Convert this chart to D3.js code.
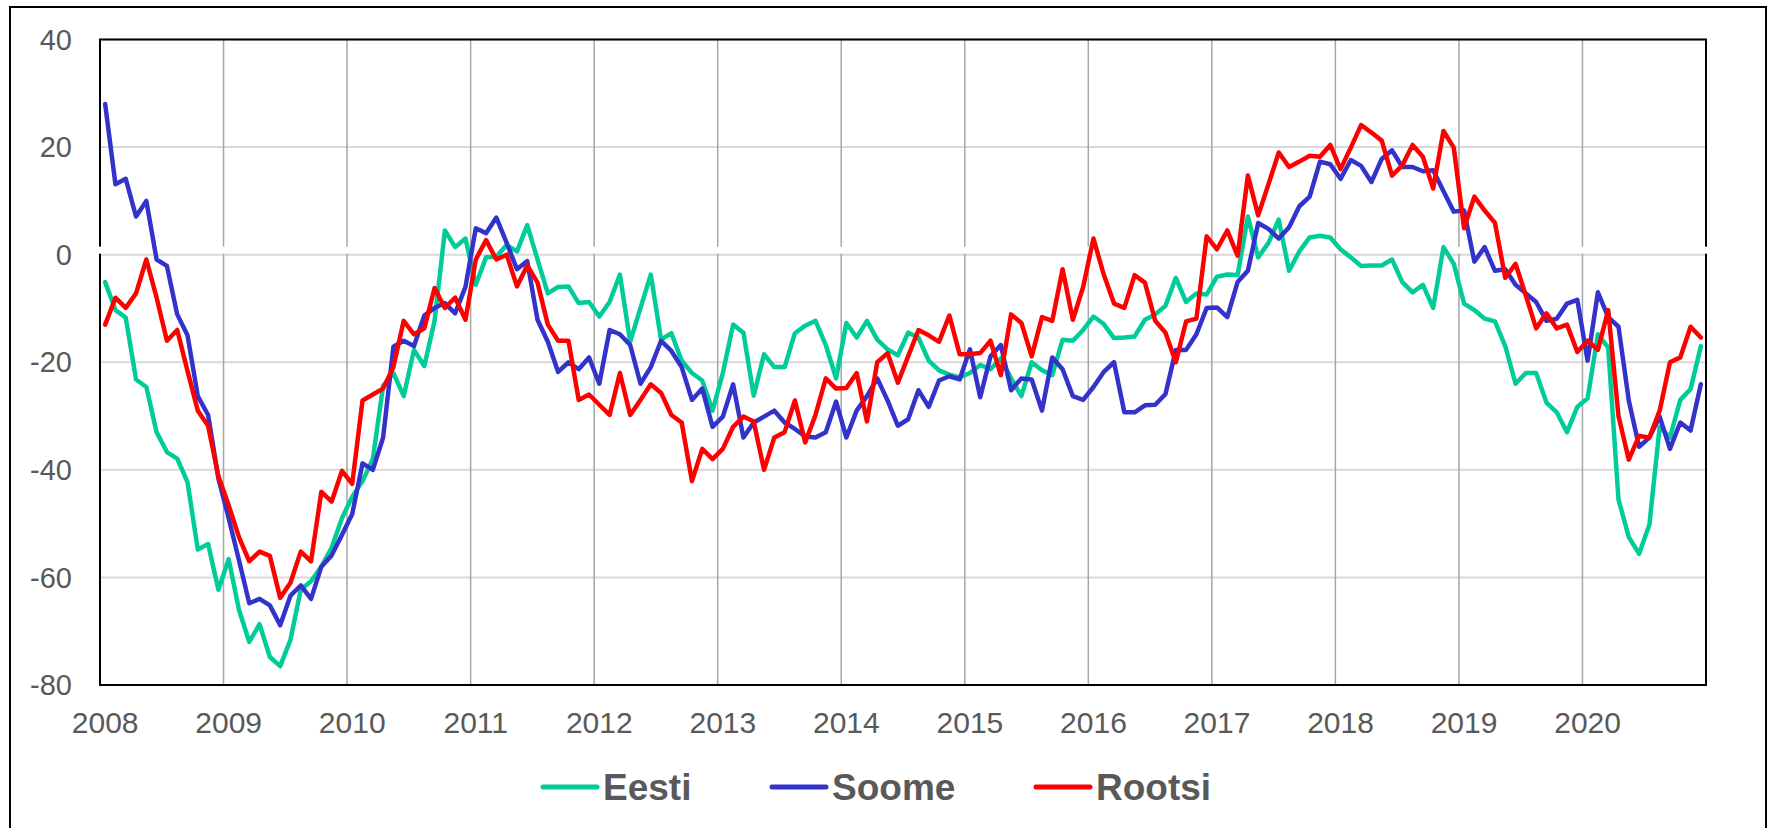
<!DOCTYPE html>
<html lang="et">
<head>
<meta charset="utf-8">
<title>Eesti, Soome, Rootsi</title>
<script src="https://cdn.jsdelivr.net/npm/d3@7"></script>
<style>
  body { margin: 0; background: #fff; }
  text { font-family: "Liberation Sans", Arial, sans-serif; fill: #595959; }
</style>
</head>
<body>
<div id="chart"></div>
<script>
// years on the category axis (12 monthly points each)
var years = ["2008","2009","2010","2011","2012","2013","2014","2015","2016","2017","2018","2019","2020"];
var yTicks = [-80, -60, -40, -20, 0, 20, 40];
var seriesNames = ["Eesti", "Soome", "Rootsi"];

var eesti = [
  -5.1, -10.3, -11.7, -23.2, -24.6, -33, -36.7, -37.9, -42.3, -54.8, -53.8, -62.3,
  -56.6, -66, -72, -68.7, -74.8, -76.5, -71.6, -62.3, -60.7, -58, -54.5, -49,
  -45, -42.1, -38, -24.4, -22, -26.3, -17.7, -20.7, -12.3, 4.5, 1.4, 3,
  -5.6, -0.5, -0.4, 1.8, 0.6, 5.5, -0.9, -7.2, -6, -5.9, -9, -8.8,
  -11.5, -8.8, -3.7, -16.2, -9.9, -3.7, -15.8, -14.6, -19.7, -22, -23.4, -29,
  -22, -13, -14.5, -26.2, -18.5, -20.9, -20.9, -14.6, -13.2, -12.3, -16.8, -23,
  -12.7, -15.4, -12.3, -15.8, -17.6, -18.7, -14.5, -15.4, -19.7, -21.5, -22.3, -22.8,
  -22, -20.5, -21.3, -19.3, -23, -26.3, -20, -21.5, -22.4, -15.8, -16, -14,
  -11.5, -12.9, -15.5, -15.4, -15.2, -12.1, -11.1, -9.5, -4.3, -8.8, -7.2, -7.4,
  -4.1, -3.7, -3.8, 7.1, -0.5, 2.2, 6.5, -3, 0.6, 3.2, 3.5, 3.2,
  1, -0.5, -2.1, -2, -2, -0.9, -5.1, -7, -5.6, -9.9, 1.4, -1.7,
  -9.1, -10.3, -11.9, -12.4, -17, -24, -22, -22, -27.5, -29.3, -33, -28.3,
  -26.7, -14.8, -17.3, -45.5, -52.5, -55.6, -50.2, -32, -34, -27, -25, -17
];

var soome = [
  28, 13.1, 14.1, 7.1, 10, -0.9, -2.1, -11.1, -15, -26.3, -29.8, -41.6,
  -49, -56.8, -64.8, -64, -65.2, -68.9, -63.4, -61.5, -64, -58, -55.9, -52.1,
  -48.2, -38.8, -40, -34, -17.1, -16, -17, -11.3, -9.9, -9, -10.9, -6,
  4.9, 4, 6.9, 2.2, -2.7, -1.2, -12.1, -16.2, -21.8, -20, -21.3, -19.1,
  -24, -14, -14.8, -16.8, -24, -20.9, -16, -17.9, -20.9, -27, -24.9, -32,
  -30.1, -24.1, -34, -31.2, -30.1, -29, -31.2, -32.4, -33.8, -34, -33, -27.3,
  -34, -29, -26.3, -23, -27.1, -31.8, -30.6, -25.2, -28.3, -23.4, -22.6, -23.2,
  -17.6, -26.5, -18.9, -16.8, -25.2, -23, -23.2, -29, -19.1, -21.3, -26.3, -27,
  -24.6, -21.8, -20, -29.3, -29.3, -28, -27.9, -25.9, -17.7, -17.7, -14.8, -9.9,
  -9.8, -11.6, -5.1, -3, 5.9, 4.8, 3, 5.1, 9, 10.8, 17.3, 16.8,
  14.1, 17.6, 16.5, 13.5, 17.8, 19.4, 16.3, 16.3, 15.5, 15.7, 11.8, 8,
  8.2, -1.3, 1.4, -3, -2.7, -5.6, -7.2, -8.8, -12.3, -11.9, -9.1, -8.4,
  -19.7, -7, -11.6, -13.4, -27.1, -35.7, -34, -30.1, -36.1, -31.2, -32.7, -24.1
];

var rootsi = [
  -13, -8, -9.9, -7.2, -0.9, -8, -16, -14, -21.6, -29, -31.8, -41.2,
  -46.6, -52.5, -57, -55.2, -56, -63.8, -61, -55.2, -57, -44.1, -45.9, -40.2,
  -42.6, -27.1, -26, -24.9, -20.9, -12.3, -14.8, -13.7, -6.2, -9.9, -8, -12.1,
  -0.9, 2.7, -0.9, 0, -5.9, -2, -5.2, -13, -16, -16, -27, -26,
  -27.9, -29.8, -22, -29.8, -27, -24.1, -25.7, -29.8, -31.2, -42.1, -36.1, -38,
  -36.1, -32, -30.1, -31, -40, -34, -33, -27.1, -34.9, -29.8, -23, -24.9,
  -24.8, -22, -31, -20, -18.3, -23.8, -18.9, -14, -15, -16.2, -11.3, -18.5,
  -18.5, -18.3, -16, -22.4, -11.1, -12.7, -18.9, -11.6, -12.3, -2.7, -12.1, -6,
  3, -3.7, -9.1, -9.9, -3.8, -5.2, -12.3, -14.5, -20, -12.4, -11.9, 3.4,
  1, 4.5, -0.2, 14.7, 7.3, 13.1, 19, 16.3, 17.3, 18.4, 18.2, 20.4,
  15.9, 19.9, 24.1, 22.7, 21.2, 14.7, 16.6, 20.4, 18.2, 12.3, 23, 19.9,
  4.9, 10.8, 8.2, 5.9, -4.3, -1.7, -7.6, -13.7, -10.9, -13.7, -13, -18.1,
  -16, -17.7, -10.3, -30, -38.1, -33.7, -34, -29, -20, -19.1, -13.4, -15.4
];

var colors = ["#00CC99", "#3333CC", "#FF0000"];

drawChart();

function drawChart() {
  var w = 1770, h = 828;
  var plotLeft = 100, plotRight = 1706, plotTop = 39.5, plotBottom = 685;

  // one category per month
  var months = [];
  years.forEach(function(y) {
    for (var m = 1; m <= 12; m++) months.push(y + "-" + m);
  });

  var svg = d3.select("#chart").append("svg")
    .attr("width", w).attr("height", h);

  // outer frame (bottom edge falls outside the picture)
  svg.append("rect")
    .attr("x", 10).attr("y", 7)
    .attr("width", 1756).attr("height", 900)
    .attr("fill", "none").attr("stroke", "#000").attr("stroke-width", 2);

  var xScale = d3.scaleBand().domain(months).range([plotLeft, plotRight]).padding(0);
  var yScale = d3.scaleLinear().domain([-80, 40]).range([plotBottom, plotTop]);
  var bw = xScale.bandwidth();

  // horizontal grid
  svg.append("g").selectAll("line")
    .data(yTicks)
    .enter().append("line")
    .attr("x1", plotLeft).attr("x2", plotRight)
    .attr("y1", function(d) { return yScale(d); })
    .attr("y2", function(d) { return yScale(d); })
    .attr("stroke", "#D9D9D9").attr("stroke-width", 2);

  // vertical grid at year boundaries
  svg.append("g").selectAll("line")
    .data(years.slice(1))
    .enter().append("line")
    .attr("x1", function(d) { return xScale(d + "-1"); })
    .attr("x2", function(d) { return xScale(d + "-1"); })
    .attr("y1", plotTop).attr("y2", plotBottom)
    .attr("stroke", "#A6A6A6").attr("stroke-width", 1.5);

  // plot border
  svg.append("rect")
    .attr("x", plotLeft).attr("y", plotTop)
    .attr("width", plotRight - plotLeft).attr("height", plotBottom - plotTop)
    .attr("fill", "none").attr("stroke", "#000").attr("stroke-width", 2);

  // x axis tick marks on the zero line (white)
  var tickX = years.map(function(d) { return xScale(d + "-1"); }).concat([plotRight]);
  svg.append("g").selectAll("line")
    .data(tickX)
    .enter().append("line")
    .attr("x1", function(d) { return d; }).attr("x2", function(d) { return d; })
    .attr("y1", yScale(0) - 8).attr("y2", yScale(0) - 1)
    .attr("stroke", "#fff").attr("stroke-width", 3);

  // y tick labels
  svg.append("g").selectAll("text")
    .data(yTicks)
    .enter().append("text")
    .attr("x", 72)
    .attr("y", function(d) { return yScale(d); })
    .attr("dy", "0.35em")
    .attr("text-anchor", "end")
    .style("font-size", "29px")
    .text(function(d) { return d; });

  // x tick labels, centred on the January category
  svg.append("g").selectAll("text")
    .data(years)
    .enter().append("text")
    .attr("x", function(d) { return xScale(d + "-1") + bw / 2; })
    .attr("y", 733)
    .attr("text-anchor", "middle")
    .style("font-size", "30px")
    .text(function(d) { return d; });

  // series lines
  var allSeries = [eesti, soome, rootsi];
  var line = d3.line()
    .x(function(d, i) { return xScale(months[i]) + bw / 2; })
    .y(function(d) { return yScale(d); });

  svg.append("g").selectAll("path")
    .data(allSeries)
    .enter().append("path")
    .attr("d", function(d) { return line(d); })
    .attr("fill", "none")
    .attr("stroke", function(d, i) { return colors[i]; })
    .attr("stroke-width", 4.5)
    .attr("stroke-linejoin", "round")
    .attr("stroke-linecap", "round");

  // legend
  var legendX = [543, 772, 1036];
  var legend = svg.append("g").selectAll("g")
    .data(seriesNames)
    .enter().append("g")
    .attr("transform", function(d, i) { return "translate(" + legendX[i] + ",787)"; });

  legend.append("line")
    .attr("x1", 0).attr("x2", 54)
    .attr("y1", 0).attr("y2", 0)
    .attr("stroke", function(d, i) { return colors[i]; })
    .attr("stroke-width", 5)
    .attr("stroke-linecap", "round");

  legend.append("text")
    .attr("x", 60).attr("y", 12.5)
    .style("font-size", "37px")
    .style("font-weight", "bold")
    .text(function(d) { return d; });
}
</script>
</body>
</html>
